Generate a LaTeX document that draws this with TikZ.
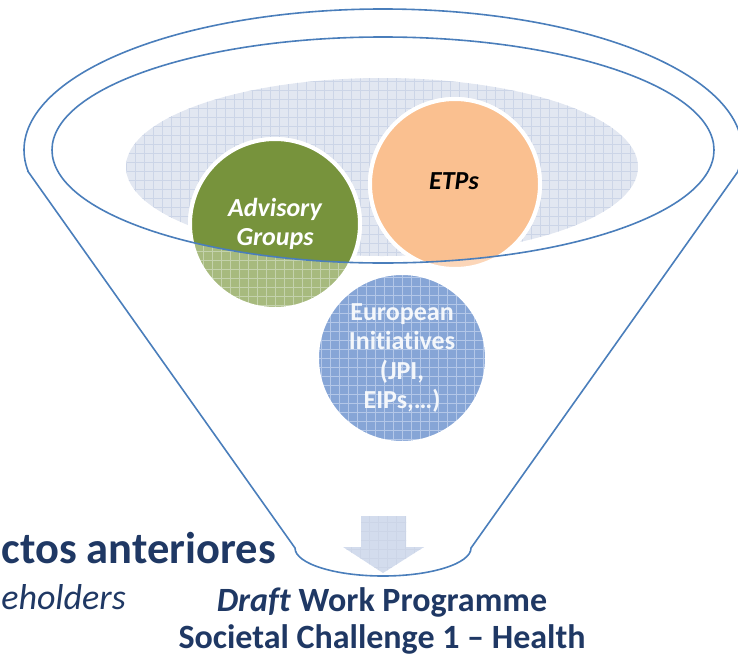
\documentclass[tikz,border=0pt]{standalone}
\usepackage{fontspec}
\setmainfont{Carlito}[Ligatures=NoCommon]
\usetikzlibrary{positioning}
\definecolor{funnelblue}{HTML}{4A7EBB}
\definecolor{paleback}{HTML}{E2E7F1}
\definecolor{paleline}{HTML}{CCD5E7}
\definecolor{agreen}{HTML}{77933C}
\definecolor{agfade}{HTML}{A7BA7E}
\definecolor{agline}{HTML}{C4D2AC}
\definecolor{etporange}{HTML}{FAC090}
\definecolor{etpfade}{HTML}{FCD6B8}
\definecolor{eurblue}{HTML}{86A5D6}
\definecolor{eurline}{HTML}{B3C7E8}
\definecolor{arrowfill}{HTML}{D3DCED}
\definecolor{navy}{HTML}{1F3864}

\begin{document}
\begin{tikzpicture}[%
    x=1pt,
    y=-1pt,
    rim/.style={draw=funnelblue, line width=1.6pt},
    gridfill/.style={%
      path picture={\draw[#1, line width=0.5pt]
        (path picture bounding box.south west) grid[step=9pt]
        (path picture bounding box.north east);}
    },
    bubble/.style={%
      circle,
      minimum size=170pt,
      inner sep=0pt,
      draw=white,
      line width=4pt
    },
    bubbletext/.style={%
      align=center,
      font=\fontsize{26}{29.5}\selectfont\bfseries
    },
    bubbleit/.style={%
      align=center,
      font=\fontsize{26}{28.5}\selectfont\bfseries\itshape
    },
    bigtext/.style={%
      text=navy,
      inner sep=0pt,
      font=\fontsize{34}{39}\selectfont\bfseries
    }
  ]
    \useasboundingbox (0,0) rectangle (738,656);

    \path[fill=paleback, gridfill=paleline] (382,167) ellipse [x radius=256pt, y radius=89pt];

    \node[bubble, fill=agfade, gridfill=agline]   (adv) at (275,224) {};
    \node[bubble, fill=etpfade]                   (etp) at (455,184) {};
    \node[bubble, fill=eurblue, gridfill=eurline] (eur) at (402,358) {};

    \begin{scope}
      \clip (383,150) ellipse [x radius=331pt, y radius=113pt];
      \filldraw[fill=agreen, draw=white, line width=4pt] (adv.center) circle [radius=85pt];
      \filldraw[fill=etporange, draw=white, line width=4pt] (etp.center) circle [radius=85pt];
    \end{scope}

    \coordinate (rimL) at (28.4,172);
    \coordinate (rimR) at (737.6,172);
    \coordinate (neckL) at (295,548);
    \draw[rim] (rimL) -- (neckL)
      arc [start angle=180, end angle=360, x radius=88pt, y radius=28pt]
      -- (rimR)
      arc [start angle=-8.98, end angle=188.98, x radius=359pt, y radius=141pt]
      -- cycle;
    \draw[rim] (383,150) ellipse [x radius=331pt, y radius=113pt];

    \path[fill=arrowfill, gridfill=paleline]
      (361,516) -- (406,516) -- (406,547) -- (424,547) -- (383,573)
      -- (343,547) -- (361,547) -- cycle;

    \node[bubbleit, text=white]   (advtxt) at (adv.center) {Advisory\\Groups};
    \node[bubbleit, text=black]   (etptxt) at (454,181)    {ETPs};
    \node[bubbletext, text=white, text opacity=0.9] (eurtxt) at (eur.center)
      {European\\Initiatives\\(JPI,\\EIPs,…)};

    \node[bigtext, anchor=base]      (draft)  at (382,611) {\textit{Draft} Work Programme};
    \node[bigtext, anchor=base]      (health) at (382,648) {Societal Challenge 1 – Health};
    \node[bigtext, anchor=base east, font=\fontsize{44.5}{50}\selectfont\bfseries]
                                     (prev)   at (276,563) {ctos anteriores};
    \node[bigtext, anchor=base east, font=\fontsize{36}{42}\selectfont\itshape]
                                     (stake)  at (126,609) {eholders};
  \end{tikzpicture}
\end{document}
